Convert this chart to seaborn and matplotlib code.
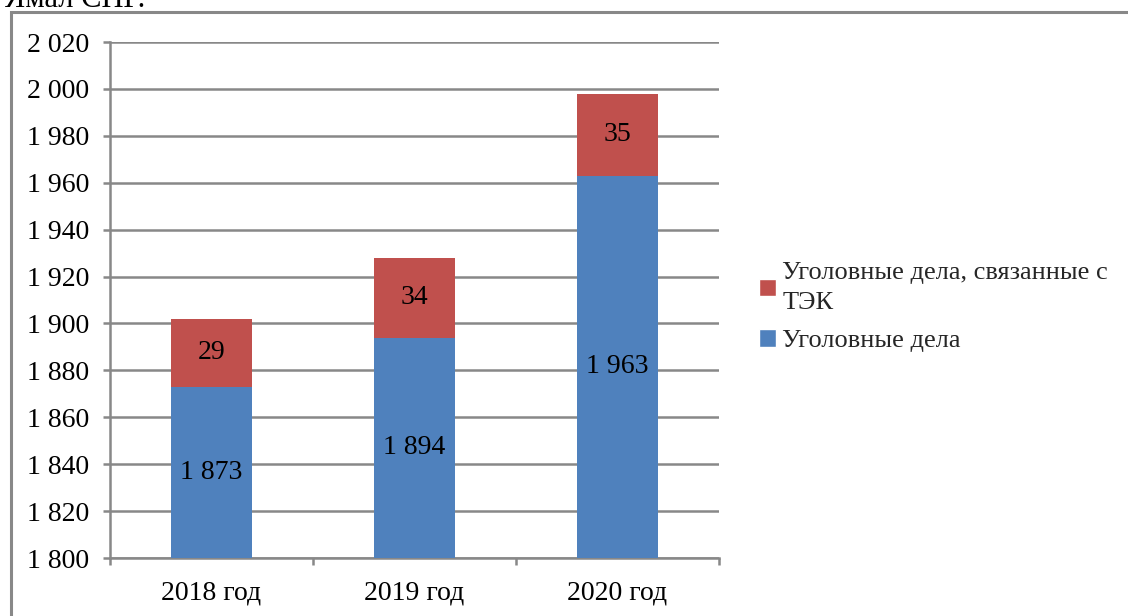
import pandas as pd
import numpy as np
import seaborn as sns
import matplotlib.pyplot as plt
from matplotlib.patches import Rectangle, Patch
from matplotlib.ticker import FuncFormatter, FixedLocator

# данные
years = ['2018 год', '2019 год', '2020 год']
ugol_dela = [1873, 1894, 1963]
dela_tek = [29, 34, 35]

sns.set_theme(style='white')
plt.rcParams['font.family'] = ['Liberation Serif', 'DejaVu Serif']

df = pd.DataFrame({'year': years, 'base': ugol_dela, 'tek': dela_tek})
df['total'] = df['base'] + df['tek']

blue = '#4F81BD'
red = '#C0504D'
grid = '#888888'
fs = 20

fig = plt.figure(figsize=(11.28, 6.16), dpi=100)
ax = fig.add_axes([110/1128, 1 - 558/616, (719 - 110)/1128, (558 - 42)/616])

# красная часть сверху (рисуем полную высоту), потом синяя
sns.barplot(data=df, x='year', y='total', color=red, width=0.395, saturation=1, ax=ax,
            zorder=3, linewidth=0)
sns.barplot(data=df, x='year', y='base', color=blue, width=0.395, saturation=1, ax=ax,
            zorder=4, linewidth=0)

ymin, ymax = 1800, 2020
ax.set_ylim(ymin, ymax)
ax.set_xlim(-0.5, 2.5)
ax.set_yticks(np.arange(ymin, ymax + 1, 20))
ax.yaxis.set_major_formatter(FuncFormatter(lambda v, p: f'{int(v):,}'.replace(',', ' ')))
ax.yaxis.grid(True, color=grid, linewidth=1.8, zorder=0)
ax.set_axisbelow(True)
ax.set_xlabel('')
ax.set_ylabel('')

for s in ['top', 'right']:
    ax.spines[s].set_visible(False)
for s in ['left', 'bottom']:
    ax.spines[s].set_color(grid)
    ax.spines[s].set_linewidth(1.8)

ax.tick_params(axis='y', which='major', direction='out', length=5, width=1.8, color=grid,
               labelsize=fs, pad=10, left=True, labelcolor='black')
ax.tick_params(axis='x', which='major', length=0, labelsize=fs, pad=16, labelcolor='black')
ax.xaxis.set_minor_locator(FixedLocator([-0.5, 0.5, 1.5, 2.5]))
ax.tick_params(axis='x', which='minor', direction='out', length=5, width=1.8, color=grid, bottom=True)

# подписи значений
for i, (b, t) in enumerate(zip(ugol_dela, dela_tek)):
    ax.text(i, (ymin + b) / 2, f'{b:,}'.replace(',', ' '), ha='center', va='center',
            fontsize=fs, color='black', zorder=5)
    ax.text(i, b + t / 2, str(t), ha='center', va='center', fontsize=fs, color='black', zorder=5)

handles = [Patch(facecolor=red, label='Уголовные дела, связанные с\nТЭК'),
           Patch(facecolor=blue, label='Уголовные дела')]
fig.legend(handles=handles, loc='center left', bbox_to_anchor=(735/1128, 1 - 307/616),
           frameon=False, fontsize=19, handlelength=0.65, handleheight=0.65,
           handletextpad=0.25, labelspacing=0.55)
for txt in fig.legends[0].get_texts():
    txt.set_linespacing(1.5)

# рамка диаграммы и обрезанный текст сверху
fig.patches.append(Rectangle((11/1128, -0.1), 1.2, 1.1 - 12/616, transform=fig.transFigure,
                             fill=False, edgecolor=grid, linewidth=2.2))
fig.text(0.004, 1 - 7/616, 'Ямал СПГ.', fontsize=22, ha='left', va='baseline', color='black')

plt.savefig('out.png', dpi=100)
